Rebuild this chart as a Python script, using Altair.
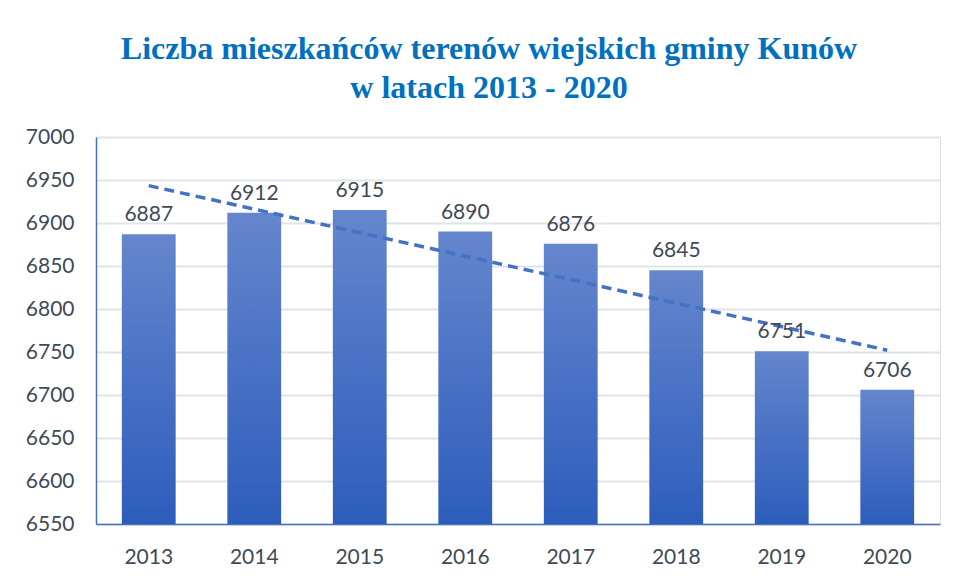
import altair as alt
import pandas as pd

years = [2013, 2014, 2015, 2016, 2017, 2018, 2019, 2020]
values = [6887, 6912, 6915, 6890, 6876, 6845, 6751, 6706]
y_ticks = [6550, 6600, 6650, 6700, 6750, 6800, 6850, 6900, 6950, 7000]
y_min, y_max = 6550, 7000

df = pd.DataFrame({"year": years, "value": values})

TXT = "#404A5A"
BLUE = "#4472C4"

x_enc = alt.X("year:O", title=None,
              scale=alt.Scale(paddingInner=0.49, paddingOuter=0.245),
              axis=alt.Axis(labelAngle=0, labelFont="Lato", labelFontSize=21,
                            labelColor=TXT, labelPadding=22, ticks=False,
                            domainColor=BLUE, domainWidth=1.5, grid=False))
y_scale = alt.Scale(domain=[y_min, y_max], zero=False, nice=False)

bars = alt.Chart(df).mark_bar(
    color=alt.Gradient(gradient="linear",
                       stops=[alt.GradientStop(color="#6486CD", offset=0),
                              alt.GradientStop(color="#2D5DBC", offset=1)],
                       x1=0, x2=0, y1=0, y2=1)
).encode(
    x=x_enc,
    y=alt.Y("value:Q", title=None, scale=y_scale,
            axis=alt.Axis(values=y_ticks, format="d", labelFont="Lato", labelFontSize=21,
                          labelColor=TXT, labelPadding=22, ticks=False,
                          domainColor=BLUE, domainWidth=1.5,
                          gridColor="#DFE3EA", gridWidth=2)),
    y2=alt.datum(y_min),
)

labels = alt.Chart(df).mark_text(
    font="Lato", fontSize=21, color=TXT, baseline="alphabetic", dy=-13
).encode(x=x_enc, y=alt.Y("value:Q", scale=y_scale), text="value:Q")

trend = alt.Chart(df).transform_regression(
    "year", "value", method="linear"
).mark_line(color=BLUE, strokeWidth=3.5, strokeDash=[10, 6]).encode(
    x=x_enc, y=alt.Y("value:Q", scale=y_scale)
)

chart = alt.layer(bars, trend, labels).properties(
    width=844, height=387,
    autosize=alt.AutoSizeParams(type="none"),
    padding={"left": 88, "top": 129, "right": 3, "bottom": 50},
    title=alt.TitleParams(
        text=["Liczba mieszkańców terenów wiejskich gminy Kunów",
              "w latach 2013 - 2020"],
        font="Liberation Serif", fontSize=32, fontWeight="bold",
        color="#0070C0", anchor="middle", offset=21, lineHeight=39, dx=-29),
).configure_view(stroke=None).configure(background="white")

chart.save("out.html", embed_options={"renderer": "svg", "actions": False})
